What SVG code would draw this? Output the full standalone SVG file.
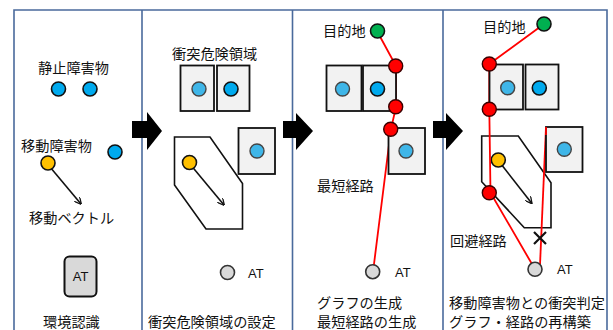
<svg xmlns="http://www.w3.org/2000/svg" width="613" height="330" viewBox="0 0 613 330">
<defs>
<style>
.frame{fill:none;stroke:#4a6a9c;stroke-width:1.6}
.t{font-family:"Noto Sans CJK JP","Noto Sans",sans-serif;font-size:14.2px;fill:#111}
.at{font-family:"Liberation Sans",Arial,sans-serif;font-size:13px;fill:#111}
.box{fill:#f2f2f2;stroke:#111;stroke-width:1.8}
.hex{fill:#fff;stroke:#111;stroke-width:1.6}
.lb{fill:#3fb6e8;stroke:#444;stroke-width:1.4}
.bb{fill:#00aaee;stroke:#111;stroke-width:1.6}
.or{fill:#ffc000;stroke:#111;stroke-width:1.6}
.gr{fill:#00b050;stroke:#111;stroke-width:1.6}
.rd{fill:#ff0000;stroke:#3a0000;stroke-width:1.4}
.ag{fill:#d9d9d9;stroke:#333;stroke-width:1.6}
.rl{fill:none;stroke:#ff0000;stroke-width:1.8}
.vec{stroke:#111;stroke-width:1.6;fill:none;marker-end:url(#ah)}
.big{fill:#000}
</style>
<marker id="ah" viewBox="0 0 10 10" refX="9" refY="5" markerWidth="7" markerHeight="7" orient="auto" markerUnits="userSpaceOnUse">
<path d="M0,0 L10,5 L0,10" fill="none" stroke="#111" stroke-width="1.8"/>
</marker>
</defs>

<g id="frame">
<path class="frame" d="M14,332 V10 H607 V332"/>
<line class="frame" x1="142" y1="10" x2="142" y2="332"/>
<line class="frame" x1="292.5" y1="10" x2="292.5" y2="332"/>
<line class="frame" x1="443" y1="10" x2="443" y2="332"/>
</g>

<g id="connectors">
<polygon class="big" points="132,121 147,121 147,112 162,131 147,150 147,138 132,138"/>
<polygon class="big" points="283,121 296,121 296,113 313,131 296,150 296,138 283,138"/>
<polygon class="big" points="433,121 446,121 446,113 463,131 446,150 446,138 433,138"/>
</g>

<g id="panel1">
<text class="t" x="38" y="73">静止障害物</text>
<circle class="bb" cx="58.5" cy="89" r="7"/>
<circle class="bb" cx="90" cy="89" r="7"/>
<text class="t" x="21" y="151">移動障害物</text>
<circle class="bb" cx="115" cy="152" r="7"/>
<line class="vec" x1="50" y1="167" x2="81" y2="204"/>
<circle class="or" cx="48" cy="163" r="7"/>
<text class="t" x="29" y="223">移動ベクトル</text>
<rect x="64.5" y="256.5" width="32" height="40" rx="5" fill="#d9d9d9" stroke="#111" stroke-width="2"/>
<text class="at" x="80.5" y="281" text-anchor="middle" font-size="12">AT</text>
<text class="t" x="43" y="327">環境認識</text>
</g>

<g id="panel2">
<text class="t" x="172" y="59">衝突危険領域</text>
<rect class="box" x="180.5" y="65.5" width="33.5" height="45.5"/>
<rect class="box" x="217" y="65.5" width="32.5" height="45.5"/>
<circle class="lb" cx="199" cy="89" r="7"/>
<circle class="bb" cx="231" cy="89" r="7"/>
<rect class="box" x="238.5" y="128" width="36.5" height="46"/>
<circle class="lb" cx="257" cy="151" r="7"/>
<polygon class="hex" points="174.5,137 210,137 242.5,183.5 242.5,229 206,229 174.5,185"/>
<line class="vec" x1="192" y1="166.5" x2="224" y2="205"/>
<circle class="or" cx="189.5" cy="162.5" r="7"/>
<circle class="ag" cx="227.5" cy="272.5" r="7"/>
<text class="at" x="248" y="277.5">AT</text>
<text class="t" x="148" y="327">衝突危険領域の設定</text>
</g>

<g id="panel3">
<text class="t" x="323" y="36">目的地</text>
<polyline class="rl" points="377,31 396,66 396,107 391,129 373,272"/>
<rect class="box" x="326.5" y="65.5" width="35" height="45.5"/>
<rect class="box" x="363" y="65.5" width="33" height="45.5"/>
<circle class="lb" cx="342.5" cy="89" r="7"/>
<circle class="bb" cx="377.5" cy="89" r="7"/>
<rect class="box" x="388.5" y="128" width="36.5" height="46"/>
<circle class="lb" cx="406" cy="151" r="7"/>
<circle class="gr" cx="377.5" cy="31" r="7"/>
<circle class="rd" cx="395.7" cy="66" r="7"/>
<circle class="rd" cx="395.7" cy="106.7" r="7"/>
<circle class="rd" cx="390.7" cy="129.3" r="7"/>
<text class="t" x="317" y="191">最短経路</text>
<circle class="ag" cx="372.7" cy="271.7" r="7"/>
<text class="at" x="395" y="276.5">AT</text>
<text class="t" x="317" y="308">グラフの生成</text>
<text class="t" x="317" y="327">最短経路の生成</text>
</g>

<g id="panel4">
<text class="t" x="483" y="32">目的地</text>
<polygon class="hex" points="481.7,136 518.3,136 551,182.7 551,227.7 524.3,227.7 481.7,181.7"/>
<line class="vec" x1="501" y1="164" x2="531.7" y2="203.3"/>
<circle class="or" cx="498.3" cy="160" r="7"/>
<polyline class="rl" points="544,24 489.3,64 489.3,109.3 490.5,192.7 535,269.3"/>
<line class="rl" x1="546" y1="127" x2="540" y2="265"/>
<rect class="box" x="489.5" y="64.5" width="33.5" height="45"/>
<rect class="box" x="525.5" y="64.5" width="33" height="45"/>
<circle class="lb" cx="507.7" cy="87.7" r="7"/>
<circle class="bb" cx="539.3" cy="88" r="7"/>
<rect class="box" x="546" y="127" width="36.5" height="45"/>
<line class="rl" x1="546" y1="127" x2="546" y2="135"/>
<circle class="lb" cx="564.3" cy="149.3" r="7"/>
<circle class="gr" cx="544" cy="24" r="7"/>
<circle class="rd" cx="489.3" cy="64" r="7"/>
<circle class="rd" cx="489.3" cy="109.3" r="7"/>
<circle class="rd" cx="489.3" cy="192.7" r="7"/>
<path d="M534,232 L546,244 M546,232 L534,244" stroke="#111" stroke-width="2.2" fill="none"/>
<text class="t" x="450" y="246">回避経路</text>
<circle class="ag" cx="535" cy="269.3" r="7"/>
<text class="at" x="557" y="274">AT</text>
<text class="t" x="449" y="308">移動障害物との衝突判定</text>
<text class="t" x="449" y="327">グラフ・経路の再構築</text>
</g>
</svg>
